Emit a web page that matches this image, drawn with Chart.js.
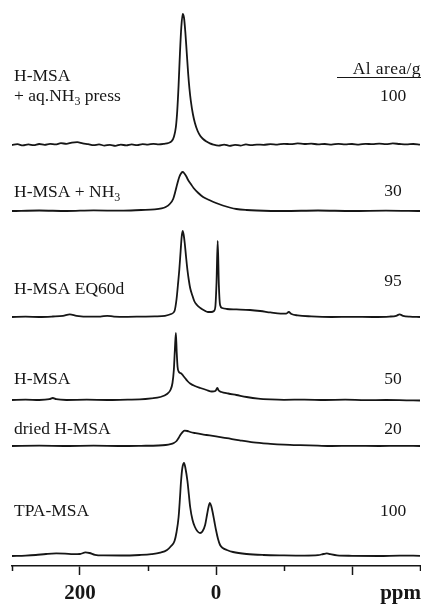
<!DOCTYPE html>
<html>
<head>
<meta charset="utf-8">
<script src="https://cdn.jsdelivr.net/npm/chart.js@4.4.1/dist/chart.umd.min.js"></script>
<style>
    html, body { margin: 0; padding: 0; background: #fff; }
</style>
</head>
<body>
<canvas id="nmr" width="421" height="604"></canvas>
<script>
// 27Al MAS NMR spectra, ppm on x, intensity (arbitrary units)
const sampleNames = ['H-MSA\n+ aq.NH_3 press', 'H-MSA + NH_3', 'H-MSA EQ60d', 'H-MSA', 'dried H-MSA', 'TPA-MSA'];
const alAreas = ['100', '30', '95', '50', '20', '100'];
const areaHeader = 'Al area/g';

const majorTicks = [200, 0, -200];
const majorTickLabels = ['200', '0', ''];
const minorTicks = [300, 100, -100, -300];
const axisUnit = 'ppm';

const pressPpm = [300, 292, 284, 276, 268, 260, 252, 244, 236, 228, 220, 212, 204, 196, 188, 180, 172, 164, 156, 148, 140, 132, 124, 116, 108, 100, 92, 84, 76,
    70, 65, 62, 59, 57, 55, 53, 51, 49, 47, 45, 43, 41, 39, 37, 34, 31, 27, 23, 19, 14, 9, 4,
    -4, -12, -20, -28, -36, -44, -52, -60,
    -70, -80, -90, -100, -110, -120, -130, -140, -150, -160, -170, -180, -190, -200, -210, -220, -230, -240, -250, -260, -270, -280, -290, -300];
const pressInt = [0, 0.8, -0.4, 0.6, -0.2, 1, 0.2, 1.2, 0.6, 1.8, 1.2, 2.4, 2.8, 1.6, 0.8, -0.2, 0.6, -0.6, 0.2, -0.8, 0.4, -0.4, 0.6, -0.2, 0.8, 0.4, 1.2, 0.6, 1.2,
    2, 4, 8, 18, 34, 60, 92, 118, 131, 127, 112, 92, 72, 56, 44, 31, 22, 14, 9, 6, 3.5, 1.6, 0.4,
    -0.6, 0.4, -0.8, 0.2, -0.6, 0.6, -0.2, 0.4,
    0.2, 0.8, 0.4, 1.2, 0.8, 1.6, 1, 1.4, 0.6, 1, 0.4, 1.2, 0.6, 1, 0.4, 1.2, 0.8, 1.4, 0.8, 1.6, 1, 0.6, 1, 0.4];

const nh3Ppm = [300, 260, 220, 180, 140, 110, 90, 80, 74, 68, 63, 60, 57, 54, 51, 49, 47, 44, 41, 37, 33, 26, 19, 10, 0, -10, -20, -30, -45, -60, -100, -150, -200, -250, -300];
const nh3Int = [0, 0.5, 0, 0.6, 0.3, 1, 1.6, 2.6, 4, 7, 12, 19, 27, 34, 38, 39, 38, 35, 31, 27, 23, 18, 14, 11, 8, 5.5, 3.5, 2, 1, 0.5, 0, 0.5, 0, 0.4, 0];

const eqPpm = [300, 280, 260, 240, 225, 215, 205, 185, 170, 160, 150, 130, 110, 90, 75,
    66, 61, 58, 56, 54, 52, 50.5, 49, 47.5, 46, 44, 42, 40, 38, 35, 32, 28, 23, 17, 12, 7, 3,
    1, -0.8, -2.5, -4.2, -6, -9, -16, -30, -50, -65, -80, -95, -103, -107, -111, -120,
    -140, -170, -200, -230, -255, -265, -270, -275, -285, -300];
const eqInt = [0, 0.3, 0, 0.5, 1.2, 2.6, 1.2, 0.3, 0.4, 1.2, 0.4, 0.2, 0.4, 0.6, 1.2,
    3, 6, 18, 32, 47, 66, 80, 86, 82, 74, 60, 47, 37, 29, 22, 16, 12, 9, 6.5, 5, 5, 6,
    10, 35, 76, 32, 12, 9, 8, 7.6, 7, 6, 4.6, 3.4, 3.4, 5, 3, 1.6,
    0.6, 0, 0.2, 0, 0.4, 1.2, 2.6, 1.2, 0.3, 0];

const hmsaPpm = [300, 280, 260, 245, 240, 235, 220, 190, 160, 130, 112, 95, 82, 72, 67, 64, 62, 60.5, 59, 57.8, 56.5, 54.5, 51, 48, 45, 42, 38, 31, 23, 14, 6,
    1, -2, -4, -8, -18, -30, -45, -62, -80, -100, -130, -160, -190, -220, -250, -280, -300];
const hmsaInt = [0, 0.4, 0, 0.8, 2, 0.8, 0, 0.3, 0, 0.4, 0.6, 1.6, 3, 6, 10, 17, 30, 50, 67, 48, 33, 28, 26.5, 24, 21.5, 19, 16.5, 14, 12, 10, 8.5,
    9, 12, 9.5, 8, 6.5, 5, 3, 1.4, 0.6, 0.2, 0.4, 0, 0.3, -0.2, 0, -0.3, -0.5];

const driedPpm = [300, 260, 220, 180, 140, 110, 85, 74, 67, 62, 58, 55, 52, 49, 46, 42, 38, 30, 20, 14, 0, -16, -35, -55, -80, -100, -124, -150, -170, -200, -240, -270, -300];
const driedInt = [0, 0.3, 0, 0.3, 0, 0.2, 0.5, 1, 1.8, 3, 5, 8, 11.5, 14, 15.3, 15, 14, 12.8, 11.6, 11, 9.6, 7.8, 5.6, 3.6, 2.2, 1.4, 0.8, 0.3, 0, 0.2, 0, 0.2, 0];

const tpaPpm = [300, 280, 265, 250, 235, 222, 210, 200, 192, 186, 178, 165, 140, 112, 95, 82, 72, 66, 61, 58, 55, 53, 51.5, 49.5, 47, 45, 42, 40, 38, 34.5, 31, 27, 23.5,
    20, 16, 13, 11, 9, 7, 5, 2.5, 0, -3, -6, -10, -16, -25, -45, -70, -100, -130, -150, -158, -163, -168, -178, -200, -240, -270, -300];
const tpaInt = [0, 0.4, 1, 2, 2.6, 2.4, 1.8, 2, 3.6, 3, 1.2, 0.6, 0.5, 1, 1.8, 3.3, 6, 10, 15, 24, 39, 58, 74, 88, 93, 88, 75, 62, 49, 36, 29, 24.5, 23,
    24.5, 31, 42, 49, 53, 50, 44, 35, 26, 17, 11, 8, 6, 4, 2, 1, 0.6, 0.4, 0.8, 2, 2.6, 1.8, 0.6, 0.2, 0, 0.4, 0.2];

const spectraPpm = [pressPpm, nh3Ppm, eqPpm, hmsaPpm, driedPpm, tpaPpm];
const spectraInt = [pressInt, nh3Int, eqInt, hmsaInt, driedInt, tpaInt];

// layout: where each trace sits in the stack (y units above the axis line)
const baselines = [421, 355, 249, 166, 120, 10];
// text offsets (px) from each trace baseline: name lines and area value
const nameDy = [[-64, -44], [-14], [-23], [-16], [-12], [-40]];
const areaDy = [-44, -15, -31, -16, -12, -40];

const ink = '#161616';
const serif = '"Liberation Serif", "Times New Roman", serif';

function drawRich(ctx, text, x, y, align, size) {
    const parts = text.split(/(_\d)/).filter(p => p.length);
    const subSize = Math.round(size * 0.68);
    const widths = parts.map(p => {
        ctx.font = (p[0] === '_' ? subSize : size) + 'px ' + serif;
        return ctx.measureText(p[0] === '_' ? p.slice(1) : p).width;
    });
    const total = widths.reduce((a, b) => a + b, 0);
    let cx = align === 'right' ? x - total : (align === 'center' ? x - total / 2 : x);
    ctx.textAlign = 'left';
    ctx.textBaseline = 'alphabetic';
    parts.forEach((p, i) => {
        if (p[0] === '_') {
            ctx.font = subSize + 'px ' + serif;
            ctx.fillText(p.slice(1), cx, y + 4);
        } else {
            ctx.font = size + 'px ' + serif;
            ctx.fillText(p, cx, y);
        }
        cx += widths[i];
    });
}

const annotate = {
    id: 'annotate',
    afterDraw(chart) {
        const ctx = chart.ctx;
        const xs = chart.scales.x;
        const ys = chart.scales.y;
        ctx.save();
        ctx.fillStyle = ink;
        ctx.strokeStyle = ink;

        // short ticks
        ctx.lineWidth = 1.5;
        minorTicks.forEach(v => {
            const px = Math.round(xs.getPixelForValue(v)) + 0.5;
            ctx.beginPath();
            ctx.moveTo(px, xs.top);
            ctx.lineTo(px, xs.top + 5);
            ctx.stroke();
        });

        // unit label in line with the tick labels
        ctx.font = 'bold 21px ' + serif;
        ctx.textAlign = 'right';
        ctx.textBaseline = 'alphabetic';
        ctx.fillText(axisUnit, chart.width, 599);

        // sample names and areas
        sampleNames.forEach((name, i) => {
            const base = ys.getPixelForValue(baselines[i]);
            name.split('\n').forEach((line, j) => {
                drawRich(ctx, line, 14, base + nameDy[i][j], 'left', 17.5);
            });
            drawRich(ctx, alAreas[i], 393, base + areaDy[i], 'center', 17.5);
        });

        // header with underline
        const top = ys.getPixelForValue(baselines[0]);
        ctx.font = '17.5px ' + serif;
        ctx.letterSpacing = '0.4px';
        ctx.textAlign = 'right';
        ctx.fillText(areaHeader, chart.width, top - 71);
        ctx.letterSpacing = '0px';
        ctx.lineWidth = 1.2;
        ctx.beginPath();
        ctx.moveTo(337, top - 67.5);
        ctx.lineTo(chart.width, top - 67.5);
        ctx.stroke();
        ctx.restore();
    }
};

const datasets = spectraPpm.map((ppm, k) => ({
    label: sampleNames[k],
    data: ppm.map((p, i) => ({ x: p, y: spectraInt[k][i] + baselines[k] })),
    borderColor: ink,
    borderWidth: 1.8,
    pointRadius: 0,
    fill: false,
    cubicInterpolationMode: 'monotone'
}));

new Chart(document.getElementById('nmr'), {
    type: 'line',
    data: { datasets: datasets },
    options: {
        responsive: false,
        devicePixelRatio: 1,
        animation: { duration: 0 },
        layout: { padding: { top: 5, left: 12, right: 1, bottom: 0 } },
        scales: {
            x: {
                type: 'linear',
                min: -300,
                max: 300,
                reverse: true,
                afterBuildTicks: function(scale) {
                    scale.ticks = majorTicks.map(v => ({ value: v }));
                },
                afterFit: function(scale) {
                    scale.height = 38;
                },
                ticks: {
                    autoSkip: false,
                    maxRotation: 0,
                    padding: 6,
                    color: ink,
                    font: { family: serif, size: 21, weight: 'bold' },
                    callback: function(value) {
                        const i = majorTicks.indexOf(value);
                        return i >= 0 ? majorTickLabels[i] : '';
                    }
                },
                grid: {
                    drawOnChartArea: false,
                    drawTicks: true,
                    tickLength: 9,
                    tickColor: ink,
                    tickWidth: 1.5
                },
                border: {
                    display: true,
                    color: ink,
                    width: 1.5
                }
            },
            y: {
                display: false,
                min: 0,
                max: 561
            }
        },
        plugins: {
            legend: { display: false },
            tooltip: { enabled: false }
        }
    },
    plugins: [annotate]
});
</script>
</body>
</html>
